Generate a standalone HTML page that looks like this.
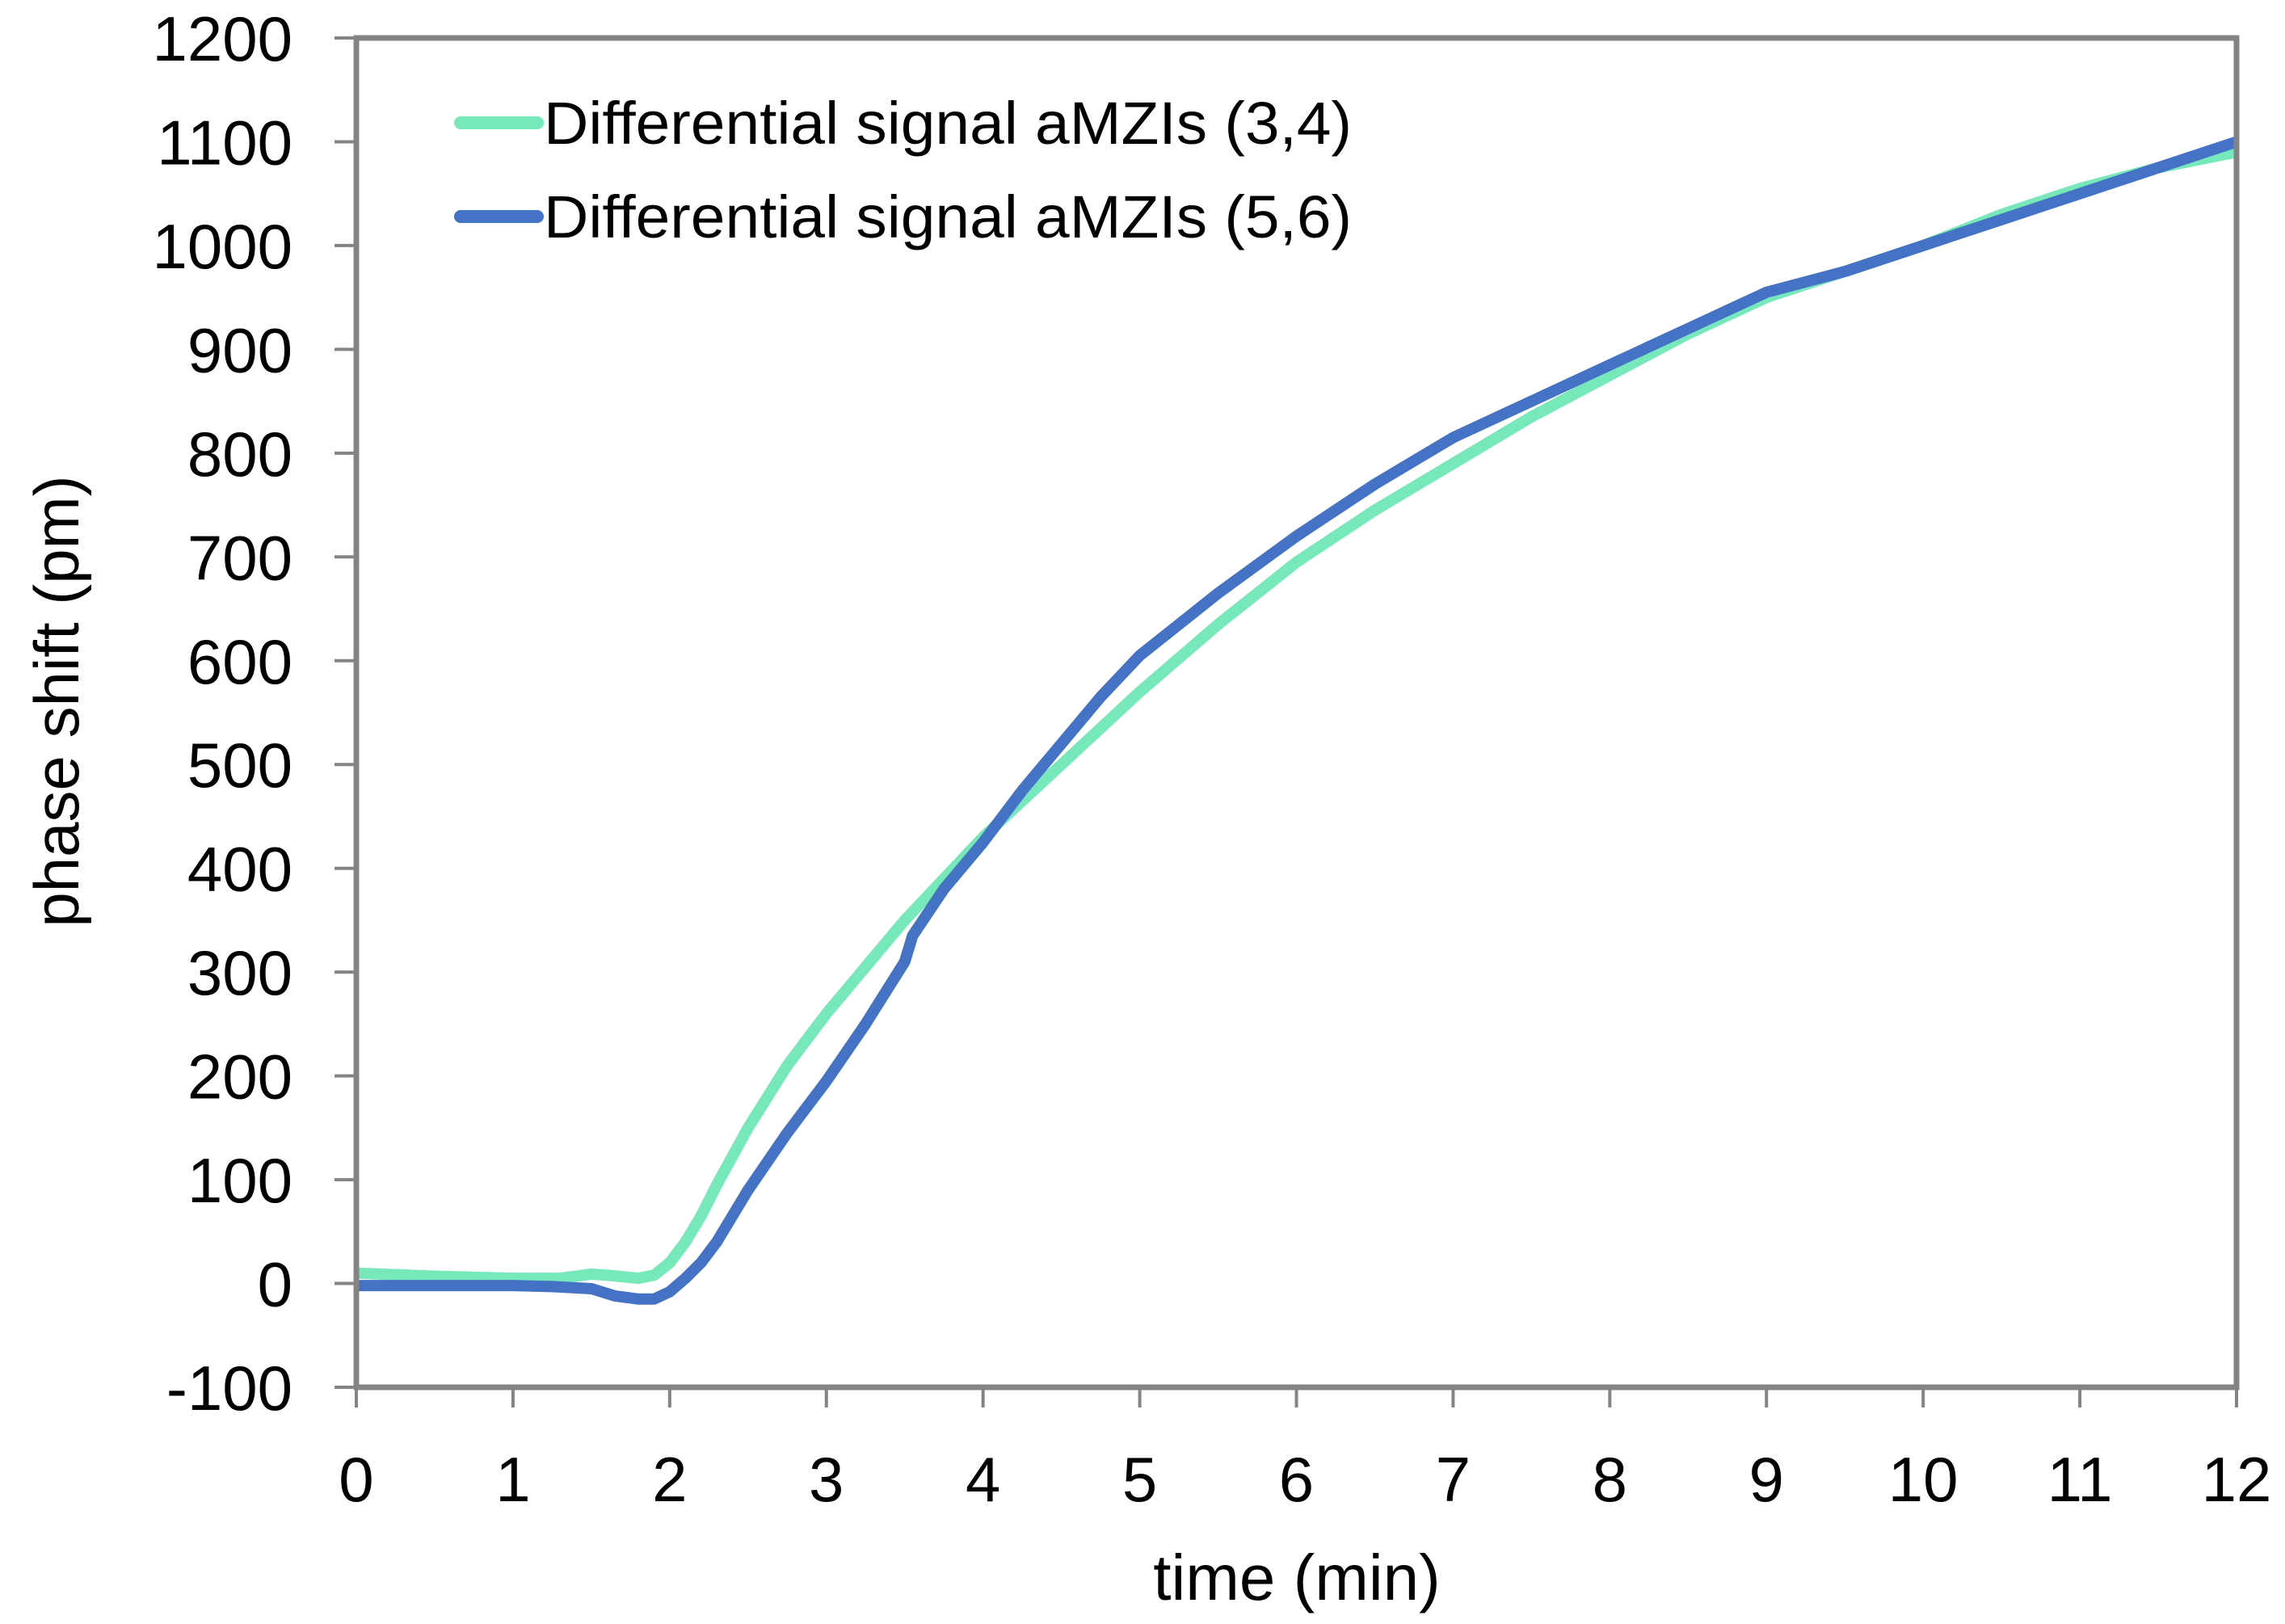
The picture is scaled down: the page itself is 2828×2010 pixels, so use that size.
<!DOCTYPE html>
<html><head><meta charset="utf-8"><style>
html,body{margin:0;padding:0;background:#fff;}
svg{display:block;font-family:"Liberation Sans",sans-serif;}
</style></head><body>
<svg id="chart" width="2828" height="2010" viewBox="0 0 2828 2010" xmlns="http://www.w3.org/2000/svg">
<rect width="2828" height="2010" fill="#fff"/>
<g id="ticks"></g>
<g id="series"></g>
<rect x="441" y="47" width="2327" height="1670" fill="none" stroke="#848484" stroke-width="7"/>
<text x="1605" y="1980" font-size="80" text-anchor="middle">time (min)</text>
<text transform="translate(97,868) rotate(-90)" font-size="78" text-anchor="middle">phase shift (pm)</text>
<g>
<line x1="570" y1="152" x2="665" y2="152" stroke="#76E8BA" stroke-width="16" stroke-linecap="round"/>
<text x="673" y="178" font-size="74" textLength="1000" lengthAdjust="spacingAndGlyphs">Differential signal aMZIs (3,4)</text>
<line x1="570" y1="268" x2="665" y2="268" stroke="#4472C4" stroke-width="16" stroke-linecap="round"/>
<text x="673" y="294" font-size="74" textLength="1000" lengthAdjust="spacingAndGlyphs">Differential signal aMZIs (5,6)</text>
</g>
</svg>
<script>
const xTicks = [0,1,2,3,4,5,6,7,8,9,10,11,12];
const yTicks = [-100,0,100,200,300,400,500,600,700,800,900,1000,1100,1200];
const greenX = [0,0.5,1,1.3,1.5,1.6,1.8,1.9,2.0,2.1,2.2,2.3,2.5,2.75,3,3.25,3.5,3.75,4,4.5,5,5.5,6,6.5,7,7.5,8,8.5,9,9.5,10,10.5,11,11.5,12];
const greenY = [10,7,5,5,9,8,5,8,20,40,65,95,150,210,260,305,350,390,430,500,570,635,695,745,790,835,875,915,950,975,1000,1030,1055,1075,1090];
const blueX = [0,0.5,1,1.25,1.5,1.65,1.8,1.9,2.0,2.1,2.2,2.3,2.4,2.5,2.75,3,3.25,3.5,3.55,3.75,4,4.25,4.5,4.75,5,5.5,6,6.5,7,7.5,8,8.5,9,9.5,10,10.5,11,11.5,12];
const blueY = [-2,-2,-2,-3,-5,-12,-15,-15,-8,5,20,40,65,90,145,195,250,310,335,380,425,475,520,565,605,665,720,770,815,850,885,920,955,975,1000,1025,1050,1075,1100];

const X0=441, X1=2768, Y0=1717, Y1=47;
function sx(v){return X0+(v-0)/(12-0)*(X1-X0);}
function sy(v){return Y0-(v+100)/(1300)*(Y0-Y1);}
const NS="http://www.w3.org/2000/svg";
const tg=document.getElementById('ticks');
xTicks.forEach(t=>{
  const l=document.createElementNS(NS,'line');
  
  
  l.setAttribute('x1',sx(t));l.setAttribute('x2',sx(t));
  l.setAttribute('y1',Y0);l.setAttribute('y2',Y0+25);
  l.setAttribute('stroke','#848484');l.setAttribute('stroke-width','4');
  tg.appendChild(l);
  const tx=document.createElementNS(NS,'text');
  
  
  tx.setAttribute('x',sx(t));tx.setAttribute('y',1858);
  tx.setAttribute('font-size','78');tx.setAttribute('text-anchor','middle');
  tx.textContent=t;tg.appendChild(tx);
});
yTicks.forEach(t=>{
  const l=document.createElementNS(NS,'line');
  
  
  l.setAttribute('x1',X0-27);l.setAttribute('x2',X0);
  l.setAttribute('y1',sy(t));l.setAttribute('y2',sy(t));
  l.setAttribute('stroke','#848484');l.setAttribute('stroke-width','4');
  tg.appendChild(l);
  const tx=document.createElementNS(NS,'text');
  
  
  tx.setAttribute('x',362);tx.setAttribute('y',sy(t)+28);
  tx.setAttribute('font-size','78');tx.setAttribute('text-anchor','end');
  tx.textContent=t;tg.appendChild(tx);
});
const sg=document.getElementById('series');
function draw(xs,ys,color,name){
  const p=document.createElementNS(NS,'polyline');
  
  
  p.setAttribute('points',xs.map((x,i)=>sx(x)+','+sy(ys[i])).join(' '));
  p.setAttribute('fill','none');p.setAttribute('stroke',color);
  p.setAttribute('stroke-width','14');p.setAttribute('stroke-linejoin','round');
  sg.appendChild(p);
}
draw(greenX,greenY,'#76E8BA','series-amzis-3-4');
draw(blueX,blueY,'#4472C4','series-amzis-5-6');
</script>
</body></html>
